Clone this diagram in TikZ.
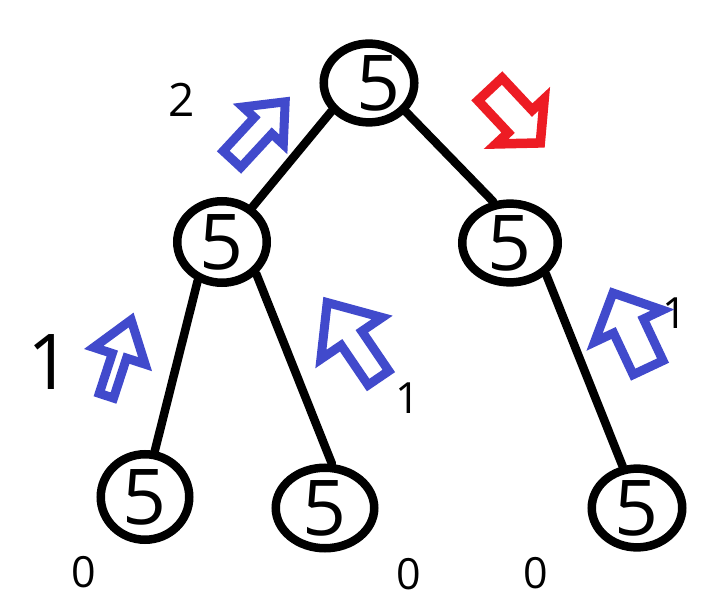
\documentclass[tikz,border=0pt]{standalone}
\usepackage{fontspec}
\setmainfont{Open Sans}
\usetikzlibrary{shapes.geometric}
\definecolor{arrblue}{RGB}{65,74,204}
\definecolor{arrred}{RGB}{237,28,36}
\tikzset{
  treenode/.style={ellipse, draw=black, line width=8.5pt, inner sep=0pt, font=\fontsize{77}{80}\selectfont},
  edge/.style={line width=8.5pt, line cap=round},
  lab/.style={inner sep=0pt, font=\fontsize{43}{46}\selectfont},
  biglab/.style={inner sep=0pt, font=\fontsize{77}{80}\selectfont},
  bluearr/.style={draw=arrblue, line width=9pt, line join=miter},
  redarr/.style={draw=arrred, line width=9.5pt, line join=miter}
}
% hollow block arrow: style, tail centre, angle, length, head start, shaft half-width, head half-width
\newcommand{\barrow}[7]{\draw[#1,shift={#2},rotate=#3] (4.5,{-(#6-4.5)}) -- ({#5+4.5},{-(#6-4.5)}) -- ({#5+4.5},{-(#7-6.5)}) -- ({#4-7},0) -- ({#5+4.5},{#7-6.5}) -- ({#5+4.5},{#6-4.5}) -- (4.5,{#6-4.5}) -- cycle;}
\begin{document}
\begin{tikzpicture}[x=1pt,y=-1pt]
\useasboundingbox (0,0) rectangle (710,599);
% tree nodes
\node[treenode, minimum width=73.5pt, minimum height=70.5pt] (root) at (369,83) {\hspace*{20pt}5};
\node[treenode, minimum width=89.5pt, minimum height=81.5pt] (lm) at (222,242) {5};
\node[treenode, minimum width=95.5pt, minimum height=77.5pt] (rm) at (510,243) {5};
\node[treenode, minimum width=88.5pt, minimum height=85.5pt] (b1) at (145,497) {5};
\node[treenode, minimum width=98.5pt, minimum height=80.5pt] (b2) at (325,508) {5};
\node[treenode, minimum width=90.5pt, minimum height=78.5pt] (b3) at (637,508) {5};
% edges
\draw[edge] (root.217) -- (lm.49);
\draw[edge] (root.322) -- (rm.112);
\draw[edge] (lm.238) -- (b1.78);
\draw[edge] (lm.317) -- (b2.81);
\draw[edge] (rm.319) -- (b3.109);
% labels
\node[lab, font=\fontsize{46}{48}\selectfont] (l2) at (182,100) {2};
\node[biglab] (l1a) at (50,362) {1};
\node[lab] (l1b) at (408,398) {1};
\node[lab] (l1c) at (675,313) {1};
\node[lab] (l0a) at (84,572) {0};
\node[lab] (l0b) at (409,574) {0};
\node[lab] (l0c) at (536,573) {0};
% hollow arrows
\barrow{bluearr}{(229,162.5)}{47.2}{89.7}{45.7}{16.5}{34}
\barrow{redarr}{(487,86)}{-46.9}{85}{44}{21}{39.5}
\barrow{bluearr}{(105,400)}{71.9}{91.2}{42}{12}{33.5}
\barrow{bluearr}{(381,381.7)}{124.2}{102.7}{48}{17}{43.5}
\barrow{bluearr}{(650,371.7)}{115.2}{94}{46}{21}{44}
\end{tikzpicture}
\end{document}
